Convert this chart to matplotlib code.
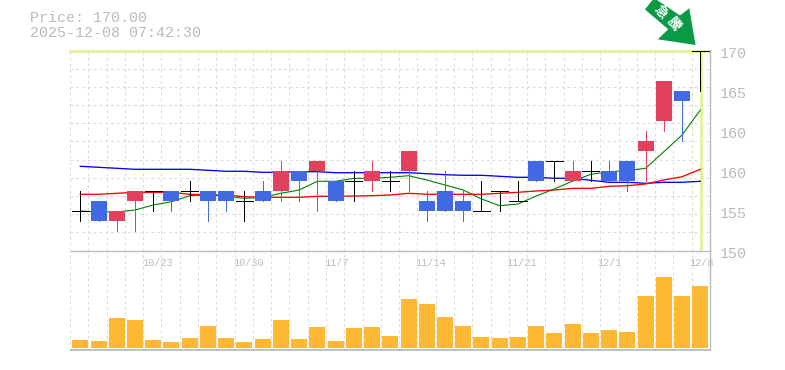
import matplotlib
matplotlib.use("Agg")
import matplotlib.pyplot as plt
import numpy as np
from matplotlib.patches import Polygon
from matplotlib.transforms import ScaledTranslation

W, H = 785, 370

opens = [154,155,153,155,156,156,156,156,156,155,156,156,158,158,157,157,157,157,158,155,156,155,154,156,155,159,159,157,158,158,159,160,163,166,170]
highs = [156,155,154,156,156,156,157,156,156,156,157,159,158,159,157,158,159,158,160,156,158,156,157,156,157,159,159,159,159,159,159,162,167,166,170]
lows = [153,153,152,152,154,154,155,153,154,153,155,155,155,154,155,155,156,156,156,153,154,153,154,154,155,157,157,157,157,157,156,157,162,161,166]
closes = [154,153,154,156,156,155,156,155,155,155,155,158,157,159,155,157,158,157,160,154,154,154,154,156,155,157,159,158,158,157,157,161,167,165,170]
ma_blue = [158.42,158.32,158.22,158.12,158.12,158.12,158.12,158.02,157.92,157.92,157.82,157.82,157.88,157.88,157.78,157.78,157.78,157.78,157.78,157.68,157.58,157.52,157.52,157.42,157.32,157.32,157.22,157.22,157.02,156.82,156.82,156.72,156.82,156.82,156.92]
ma_red = [155.62,155.62,155.72,155.82,155.82,155.82,155.62,155.58,155.55,155.38,155.32,155.32,155.32,155.42,155.42,155.45,155.48,155.55,155.72,155.62,155.62,155.62,155.62,155.72,155.82,155.95,156.05,156.22,156.22,156.42,156.48,156.65,157.05,157.38,158.12]
ma_green = [153.95,153.85,153.85,154.05,154.55,154.88,155.48,155.55,155.45,155.22,155.32,155.72,156.05,156.92,156.92,157.22,157.22,157.32,157.48,157.05,156.55,156.05,155.15,154.48,154.65,155.45,156.15,156.95,157.62,157.88,157.98,158.22,159.88,161.55,164.05]
volumes = [8,7,30,28,8,6,10,22,10,6,9,28,9,21,7,20,21,12,49,44,31,22,11,10,11,22,15,24,15,18,16,52,71,52,62]
date_idx = [4,9,14,19,24,29,34]
date_labels = ["10/23","10/30","11/7","11/14","11/21","12/1","12/8"]
price_tick_vals = [170,166,162,158,154,150]
price_tick_labels = ["170","165","160","160","155","150"]
title_lines = ["Price: 170.00","2025-12-08 07:42:30"]
badge_chars = ["急","騰"]

C_UP, C_DOWN, C_DOJI = "#E34060", "#4169E1", "#000000"
C_GRID, C_AXIS, C_TEXT = "#DDDDDD", "#BBBBBB", "#BBBBBB"
C_HILITE, C_VOL, C_BADGE = "#E2F3A4", "#FFB833", "#0A9A46"

MONO = ["Liberation Mono", "DejaVu Sans Mono"]
CJK = ["Noto Sans CJK JP", "DejaVu Sans"]

fig = plt.figure(figsize=(W/100, H/100), dpi=100, facecolor="white")

def axes_px(x0, y0, x1, y1):
    return fig.add_axes([x0/W, 1-y1/H, (x1-x0)/W, (y1-y0)/H])

L, R = 70, 710
ax = axes_px(L, 50.5, R, 250.5)
av = axes_px(L, 250.5, R, 350)
x = np.arange(len(closes))
xlim = (-0.5648, 34.53)
for a in (ax, av):
    a.set_xlim(*xlim)
    a.set_facecolor("none")
    for s in a.spines.values():
        s.set_visible(False)
    a.set_xticks(np.linspace(*xlim, 36), minor=True)
    a.grid(True, which="minor", axis="x", color=C_GRID, lw=0.8, ls=(0, (2.6, 2.6)), zorder=0)
    a.tick_params(which="both", length=0)
    a.set_axisbelow(True)

# price panel
ax.set_ylim(150, 170)
ax.set_yticks(np.linspace(150, 170, 12), minor=True)
ax.grid(True, which="minor", axis="y", color=C_GRID, lw=0.8, ls=(0, (2.6, 2.6)), zorder=0)
ax.set_xticks([], minor=False)
ax.yaxis.tick_right()
ax.set_yticks(price_tick_vals, price_tick_labels)
ax.tick_params(axis="y", which="major", pad=7, labelsize=10.8, colors=C_TEXT, labelfontfamily=MONO)
for t in ax.yaxis.get_major_ticks():
    t.label2.set_transform(t.label2.get_transform() + ScaledTranslation(0, -0.02, fig.dpi_scale_trans))

ax.axhline(closes[-1], color=C_HILITE, lw=2.2, zorder=1, clip_on=False)
ax.plot([x[-1]+0.01]*2, [150.1, closes[-1]], color=C_HILITE, lw=2.4, zorder=1, solid_capstyle="butt")

for vals, col, lw in ((ma_blue, "#0000FF", 0.95), (ma_red, "#FF0000", 0.95), (ma_green, "#008000", 0.8)):
    ax.plot(x, vals, color=col, lw=lw, zorder=2)

W_BODY = 16/18.235
for i in x:
    o, h, l, c = opens[i], highs[i], lows[i], closes[i]
    col = C_UP if c > o else C_DOWN if c < o else C_DOJI
    ax.vlines(i, l, h, color=col, lw=0.68, zorder=3, clip_on=False, snap=True, antialiased=False)
    if c == o:
        ax.hlines(c, i-W_BODY/2-0.03, i+W_BODY/2+0.03, color=col, lw=0.68, zorder=4,
                  clip_on=False, snap=True, antialiased=False)
    else:
        ax.bar(i, abs(c-o), bottom=min(c, o), width=W_BODY, color=col, lw=0, zorder=3)

# volume panel
av.set_ylim(-2, 97.5)
av.set_yticks([])
av.bar(x, volumes, width=W_BODY, color=C_VOL, lw=0, zorder=3)
av.xaxis.tick_top()
av.set_xticks(date_idx, date_labels)
av.tick_params(axis="x", which="major", pad=-12.6, labelsize=7.4, colors=C_TEXT, labelfontfamily=MONO)
for t in av.xaxis.get_major_ticks():
    lab = t.label2
    lab.set_ha("left")
    lab.set_transform(lab.get_transform() + ScaledTranslation(-0.115, 0, fig.dpi_scale_trans))

# frame lines
bg = fig.add_axes([0, 0, 1, 1], zorder=5)
bg.set_xlim(0, W); bg.set_ylim(H, 0); bg.axis("off"); bg.patch.set_alpha(0)
bg.plot([L, 711], [250.5, 250.5], color=C_AXIS, lw=1, solid_capstyle="butt")
bg.plot([L, 711], [349.8, 349.8], color=C_AXIS, lw=1.3, solid_capstyle="butt")
bg.plot([710.3, 710.3], [50, 350], color=C_AXIS, lw=1, solid_capstyle="butt")

# header
for line, ypx in zip(title_lines, (18, 33)):
    bg.text(30, ypx, line, family=MONO, fontsize=10.8, color=C_TEXT, ha="left", va="center")

# badge arrow
bg.add_patch(Polygon([(645, 9.5), (652.5, 0), (657, 0), (680, 15.5), (689.3, 8.3), (695.5, 45),
                      (657.7, 39.3), (668.3, 29.3)], closed=True, facecolor=C_BADGE, edgecolor="none"))
for ch, (px, py) in zip(badge_chars, [(660.7, 11.7), (673.3, 24)]):
    bg.text(px, py, ch, family=CJK, fontsize=9.5, weight="bold", color="white",
            rotation=-50, rotation_mode="anchor", ha="center", va="center")

fig.savefig("out.png", dpi=100)
